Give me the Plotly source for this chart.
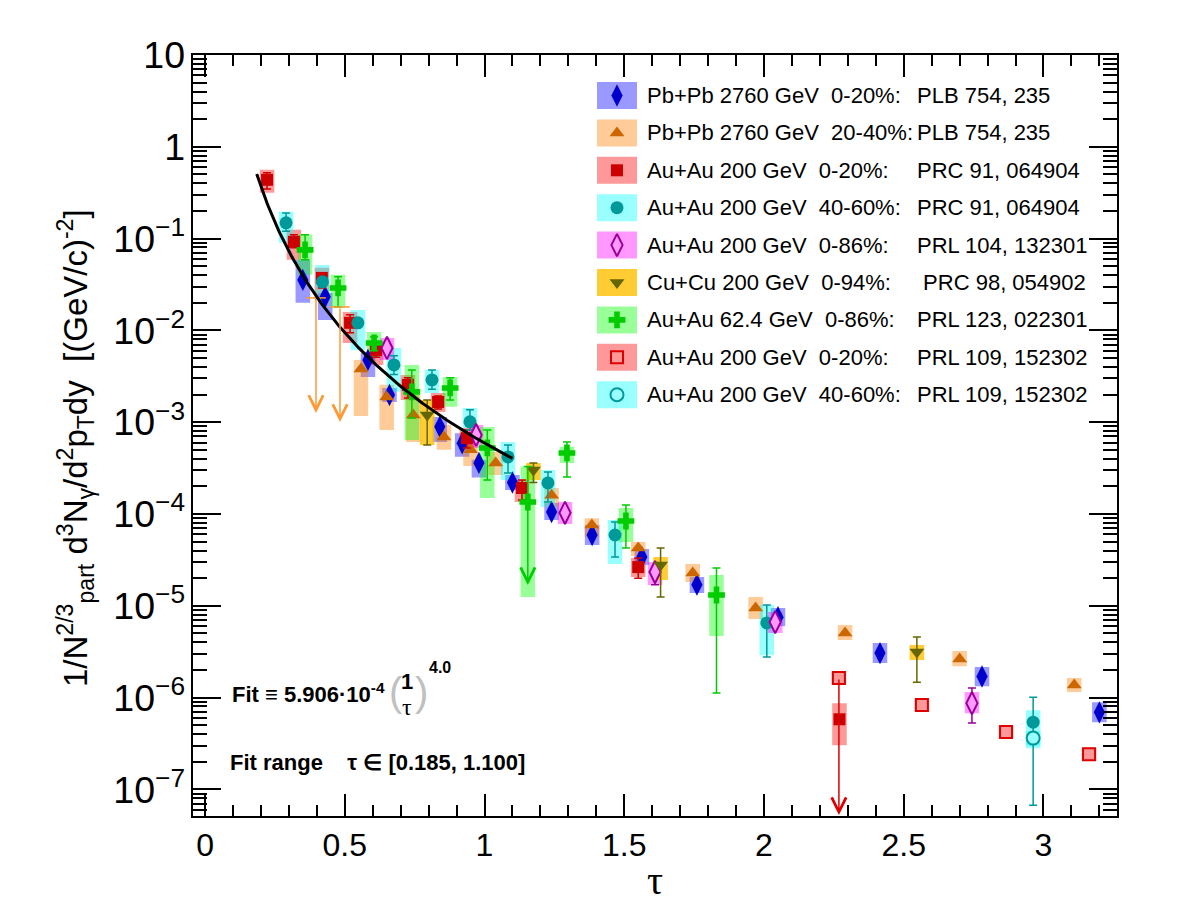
import numpy as np
import plotly.graph_objects as go

# ---------------- data ----------------
# Pb+Pb 2760 GeV 0-20% (PLB 754, 235)
PBPB020_TAU = [0.35, 0.43, 0.583, 0.66, 0.84, 0.92, 0.98, 1.10, 1.24, 1.385, 1.563, 1.76, 2.05, 2.415, 2.78, 3.20]
PBPB020_Y = [0.0355, 0.0232, 4.77e-3, 1.98e-3, 8.9e-4, 5.9e-4, 3.6e-4, 2.2e-4, 1.05e-4, 5.9e-5, 3.4e-5, 1.7e-5, 7.5e-6, 3.05e-6, 1.7e-6, 6.9e-7]
PBPB020_SYS_HI = [0.0587, 0.0256, 5.7e-3, 2.36e-3, 1.14e-3, 7.6e-4, 3.9e-4, 2.66e-4, 1.32e-4, 7.6e-5, 4.16e-5, 2.06e-5, 9.45e-6, 3.93e-6, 2.15e-6, 8.9e-7]
PBPB020_SYS_LO = [0.020, 0.013, 3.1e-3, 1.66e-3, 6.1e-4, 4.2e-4, 2.5e-4, 1.83e-4, 8.6e-5, 4.6e-5, 2.8e-5, 1.38e-5, 6.0e-6, 2.38e-6, 1.33e-6, 5.4e-7]

# Pb+Pb 2760 GeV 20-40% (PLB 754, 235)
PBPB2040_TAU = [0.558, 0.65, 0.745, 0.855, 0.95, 1.04, 1.24, 1.384, 1.55, 1.745, 1.97, 2.29, 2.70, 3.11]
PBPB2040_Y = [3.8e-3, 1.88e-3, 1.2e-3, 6.9e-4, 5.0e-4, 3.6e-4, 1.6e-4, 7.6e-5, 4.26e-5, 2.27e-5, 9.45e-6, 5.05e-6, 2.63e-6, 1.37e-6]
PBPB2040_SYS_HI = [4.77e-3, 2.55e-3, 1.98e-3, 9.3e-4, 6.4e-4, 4.74e-4, 1.92e-4, 9.0e-5, 4.95e-5, 2.85e-5, 1.25e-5, 6.17e-6, 3.21e-6, 1.63e-6]
PBPB2040_SYS_LO = [1.17e-3, 8.2e-4, 6.1e-4, 5.0e-4, 3.33e-4, 2.66e-4, 1.19e-4, 5.6e-5, 3.48e-5, 1.82e-5, 7.18e-6, 4.24e-6, 2.2e-6, 1.15e-6]
PBPB2040_UL_TAU = [0.397, 0.483]
PBPB2040_UL_Y = [0.0226, 0.018]

# Au+Au 200 GeV 0-20% (PRC 91, 064904)
AUAU020_TAU = [0.222, 0.318, 0.418, 0.519, 0.612, 0.726, 0.834, 0.937, 1.134, 1.55, 2.27]
AUAU020_Y = [0.437, 0.0922, 0.0373, 0.0121, 6.1e-3, 2.55e-3, 1.66e-3, 6.7e-4, 1.92e-4, 2.64e-5, 5.8e-7]
AUAU020_SYS_HI = [0.561, 0.1245, 0.048, 0.0159, 7.5e-3, 3.27e-3, 2.08e-3, 8.65e-4, 2.35e-4, 3.31e-5, 8.7e-7]
AUAU020_SYS_LO = [0.315, 0.0587, 0.0215, 7.3e-3, 4.2e-3, 1.75e-3, 1.29e-3, 5.24e-4, 1.35e-4, 2.06e-5, 3.03e-7]
AUAU020_STAT_HI = [0.521, 0.110, 0.0423, 0.0148, 7.3e-3, 3.04e-3, 1.93e-3, 8.24e-4, 2.35e-4, 3.31e-5, None]
AUAU020_STAT_LO = [0.348, 0.0793, 0.029, 9.4e-3, 5.1e-3, 1.84e-3, 1.39e-3, 5.24e-4, 1.42e-4, 2.0e-5, None]

# Au+Au 200 GeV 40-60% (PRC 91, 064904)
AUAU4060_TAU = [0.29, 0.42, 0.547, 0.676, 0.812, 0.948, 1.084, 1.227, 1.467, 2.01, 2.963]
AUAU4060_Y = [0.1485, 0.0338, 0.0121, 4.21e-3, 2.89e-3, 1.01e-3, 4.18e-4, 2.18e-4, 5.9e-5, 6.5e-6, 5.4e-7]
AUAU4060_SYS_HI = [0.196, 0.0516, 0.0167, 6.44e-3, 3.71e-3, 1.43e-3, 6.09e-4, 3.02e-4, 8.6e-5, 1.02e-5, 7.3e-7]
AUAU4060_SYS_LO = [0.0899, 0.0215, 6.1e-3, 2.14e-3, 2.08e-3, 8.65e-4, 2.35e-4, 1.19e-4, 2.85e-5, 2.9e-6, 2.8e-7]
AUAU4060_STAT_HI = [0.19, None, None, 5.3e-3, 3.7e-3, 1.37e-3, 5.65e-4, 2.87e-4, 8.2e-5, 1.02e-5, 1.01e-6]
AUAU4060_STAT_LO = [0.12, None, None, 3.3e-3, 2.28e-3, 8.2e-4, 2.8e-4, 1.35e-4, 3.4e-5, 2.76e-6, 3.3e-7]

# Au+Au 200 GeV 0-86% (PRL 104, 132301)
AUAU086_TAU = [0.651, 0.97, 1.288, 1.61, 2.04, 2.744]
AUAU086_Y = [6.44e-3, 7.26e-4, 1.03e-4, 2.33e-5, 6.65e-6, 8.7e-7]
AUAU086_SYS_HI = [8.28e-3, 9.33e-4, 1.35e-4, 3.0e-5, 8.55e-6, 1.15e-6]
AUAU086_SYS_LO = [4.77e-3, 5.24e-4, 7.8e-5, 1.68e-5, 5.05e-6, 6.77e-7]
AUAU086_STAT_HI = [None, None, None, None, None, 1.27e-6]
AUAU086_STAT_LO = [None, None, None, 1.7e-5, None, 5.27e-7]

# Cu+Cu 200 GeV 0-94% (PRC 98, 054902)
CUCU_TAU = [0.795, 1.175, 1.63, 2.547]
CUCU_Y = [1.2e-3, 3.02e-4, 2.78e-5, 3.13e-6]
CUCU_SYS_HI = [1.75e-3, 3.6e-4, 3.4e-5, 3.73e-6]
CUCU_SYS_LO = [5.65e-4, 2.35e-4, 1.91e-5, 2.56e-6]
CUCU_STAT_HI = [1.75e-3, 3.6e-4, 4.26e-5, 4.56e-6]
CUCU_STAT_LO = [5.65e-4, 2.2e-4, 1.25e-5, 1.47e-6]

# Au+Au 62.4 GeV 0-86% (PRL 123, 022301)
AUAU62_TAU = [0.358, 0.476, 0.605, 0.74, 0.877, 1.01, 1.155, 1.295, 1.506, 1.83]
AUAU62_Y = [0.0754, 0.029, 7.3e-3, 2.14e-3, 2.36e-3, 5.24e-4, 1.35e-4, 4.62e-4, 8.39e-5, 1.31e-5]
AUAU62_SYS_HI = [0.110, 0.0403, 9.6e-3, 4.21e-3, 3.11e-3, 8.88e-4, 3.3e-4, 5.4e-4, 1.16e-4, 2.16e-5]
AUAU62_SYS_LO = [0.0403, 0.0176, 5.14e-3, 6.41e-4, 1.47e-3, 1.49e-4, 1.25e-5, 3.6e-4, 4.95e-5, 4.68e-6]
AUAU62_STAT_HI = [0.110, 0.0385, 8.5e-3, 3.71e-3, 3.04e-3, 8.24e-4, 3.3e-4, 6.09e-4, 1.25e-4, 2.58e-5]
AUAU62_STAT_LO = [0.0587, 0.018, 6.0e-3, 1.11e-3, 1.75e-3, 2.35e-4, None, 2.53e-4, 4.26e-5, 1.12e-6]
AUAU62_ARROW_TAU = [1.155]
AUAU62_ARROW_FROM = [1.35e-4]
AUAU62_ARROW_TO = [1.68e-5]

# Au+Au 200 GeV 0-20% (PRL 109, 152302)
PRL109_020_TAU = [2.268, 2.565, 2.866, 3.163]
PRL109_020_Y = [1.63e-6, 8.28e-7, 4.21e-7, 2.42e-7]
PRL109_020_SYS_HI = [1.92e-6, 9.75e-7, 4.95e-7, 2.85e-7]
PRL109_020_SYS_LO = [1.38e-6, 7.0e-7, 3.57e-7, 2.05e-7]
PRL109_020_ARROW_TAU = [2.268]
PRL109_020_ARROW_FROM = [1.63e-6]

# Au+Au 200 GeV 40-60% (PRL 109, 152302)
PRL109_4060_TAU = [2.963]
PRL109_4060_Y = [3.62e-7]
PRL109_4060_SYS_HI = [4.3e-7]
PRL109_4060_SYS_LO = [3.0e-7]
PRL109_4060_STAT_HI = [None]
PRL109_4060_STAT_LO = [6.73e-8]

# Fit
FIT_NORM = 5.906e-4
FIT_POW = 4.0
FIT_RANGE = [0.185, 1.100]

LEGEND_LABELS = ["Pb+Pb 2760 GeV  0-20%:", "Pb+Pb 2760 GeV  20-40%:", "Au+Au 200 GeV  0-20%:",
                 "Au+Au 200 GeV  40-60%:", "Au+Au 200 GeV  0-86%:", "Cu+Cu 200 GeV  0-94%:",
                 "Au+Au 62.4 GeV  0-86%:", "Au+Au 200 GeV  0-20%:", "Au+Au 200 GeV  40-60%:"]
LEGEND_REFS = ["PLB 754, 235", "PLB 754, 235", "PRC 91, 064904", "PRC 91, 064904", "PRL 104, 132301",
               " PRC 98, 054902", "PRL 123, 022301", "PRL 109, 152302", "PRL 109, 152302"]

# ---------------- layout constants ----------------
W, H = 1182, 917
ML, MR, MT, MB = 193, 65, 55, 101
PW, PH = W - ML - MR, H - MT - MB
X_RANGE = [-0.043, 3.263]
Y_RANGE_LOG = [-7.29, 1.0]
HW = 0.026  # half width of systematic boxes (tau units)


def px(x):
    return (x - ML) / PW


def py(y):
    return (H - MB - y) / PH


BLUE_BOX = "rgba(0,0,255,0.4)"
ORANGE_BOX = "rgba(255,128,0,0.4)"
RED_BOX = "rgba(255,0,0,0.4)"
CYAN_BOX = "rgba(0,255,255,0.4)"
MAG_BOX = "rgba(255,0,255,0.4)"
GOLD_BOX = "rgba(255,191,0,0.8)"
GREEN_BOX = "rgba(0,255,0,0.4)"

fig = go.Figure()


def add_boxes(tau, lo, hi, color):
    xs, ys = [], []
    for t, l, h in zip(tau, lo, hi):
        xs += [t - HW, t + HW, t + HW, t - HW, t - HW, None]
        ys += [l, l, h, h, l, None]
    fig.add_trace(go.Scatter(x=xs, y=ys, mode="lines", fill="toself", fillcolor=color,
                             line=dict(width=0, color=color), hoverinfo="skip", showlegend=False))


def add_points(tau, y, symbol, size, color, stat_lo=None, stat_hi=None, lcolor=None, lwidth=0):
    err = None
    if stat_lo is not None:
        plus = [(h - v) if h is not None else None for v, h in zip(y, stat_hi)]
        minus = [(v - l) if l is not None else None for v, l in zip(y, stat_lo)]
        err = dict(type="data", symmetric=False, array=plus, arrayminus=minus,
                   color=lcolor or color, thickness=1.5, width=4)
    fig.add_trace(go.Scatter(x=tau, y=y, mode="markers",
                             marker=dict(symbol=symbol, size=size, color=color,
                                         line=dict(color=lcolor or color, width=lwidth)),
                             error_y=err, showlegend=False, hoverinfo="x+y"))


# boxes
add_boxes(PBPB020_TAU, PBPB020_SYS_LO, PBPB020_SYS_HI, BLUE_BOX)
add_boxes(PBPB2040_TAU, PBPB2040_SYS_LO, PBPB2040_SYS_HI, ORANGE_BOX)
add_boxes(AUAU020_TAU, AUAU020_SYS_LO, AUAU020_SYS_HI, RED_BOX)
add_boxes(AUAU4060_TAU, AUAU4060_SYS_LO, AUAU4060_SYS_HI, CYAN_BOX)
add_boxes(AUAU086_TAU, AUAU086_SYS_LO, AUAU086_SYS_HI, MAG_BOX)
add_boxes(CUCU_TAU, CUCU_SYS_LO, CUCU_SYS_HI, GOLD_BOX)
add_boxes(AUAU62_TAU, AUAU62_SYS_LO, AUAU62_SYS_HI, GREEN_BOX)
add_boxes(PRL109_020_TAU, PRL109_020_SYS_LO, PRL109_020_SYS_HI, RED_BOX)
add_boxes(PRL109_4060_TAU, PRL109_4060_SYS_LO, PRL109_4060_SYS_HI, CYAN_BOX)

# markers (open ROOT markers get the light box colour as fill)
add_points(PBPB020_TAU, PBPB020_Y, "diamond-tall", 16, "#0000cc")
add_points(PBPB2040_TAU, PBPB2040_Y, "triangle-up", 13, "#cc6600")
add_points(AUAU020_TAU, AUAU020_Y, "square", 12, "#cc0000", AUAU020_STAT_LO, AUAU020_STAT_HI)
add_points(AUAU4060_TAU, AUAU4060_Y, "circle", 13, "#009999", AUAU4060_STAT_LO, AUAU4060_STAT_HI)
add_points(AUAU086_TAU, AUAU086_Y, "diamond-tall", 16, "#ff99ff", AUAU086_STAT_LO, AUAU086_STAT_HI,
           lcolor="#990099", lwidth=2)
add_points(CUCU_TAU, CUCU_Y, "triangle-down", 13, "#666600", CUCU_STAT_LO, CUCU_STAT_HI)
add_points(AUAU62_TAU, AUAU62_Y, "cross", 14, "#00cc00", AUAU62_STAT_LO, AUAU62_STAT_HI)
add_points(PRL109_020_TAU, PRL109_020_Y, "square", 12, "#ff9999", lcolor="#dd0000", lwidth=2)
add_points(PRL109_4060_TAU, PRL109_4060_Y, "circle", 13, "#99ffff", PRL109_4060_STAT_LO,
           PRL109_4060_STAT_HI, lcolor="#009999", lwidth=2)

# upper-limit caps (orange)
fig.add_trace(go.Scatter(x=PBPB2040_UL_TAU, y=PBPB2040_UL_Y, mode="markers",
                         marker=dict(symbol="line-ew", size=14, line=dict(color="#ff9933", width=1.5)),
                         showlegend=False, hoverinfo="x+y"))

# fit curve
tau_fit = np.linspace(FIT_RANGE[0], FIT_RANGE[1], 200)
fig.add_trace(go.Scatter(x=tau_fit, y=FIT_NORM * (1.0 / tau_fit) ** FIT_POW, mode="lines",
                         line=dict(color="black", width=3), showlegend=False, hoverinfo="skip"))

annotations = []


def add_arrow(tau, start, end, color):
    annotations.append(dict(x=tau, y=np.log10(end), ax=tau, ay=np.log10(start), xref="x", yref="y",
                            axref="x", ayref="y", text="", showarrow=True, arrowhead=5, arrowsize=1.9,
                            arrowwidth=1.5, arrowcolor=color, standoff=0, startstandoff=0))


UL_FACTOR = 17.9  # drawn length of upper-limit arrows
for t, v in zip(PBPB2040_UL_TAU, PBPB2040_UL_Y):
    add_arrow(t, v, v / UL_FACTOR, "#ff9933")
for t, a, b in zip(AUAU62_ARROW_TAU, AUAU62_ARROW_FROM, AUAU62_ARROW_TO):
    add_arrow(t, a, b, "#00cc00")
for t, a in zip(PRL109_020_ARROW_TAU, PRL109_020_ARROW_FROM):
    add_arrow(t, a, 10 ** (Y_RANGE_LOG[0] + 0.01), "#dd0000")

# ---------------- legend (manual, ROOT-like) ----------------
LEG_Y0, LEG_DY = 95.5, 37.4
leg_symbols = [("diamond-tall", 16, "#0000cc", "#0000cc", 0), ("triangle-up", 13, "#cc6600", "#cc6600", 0),
               ("square", 12, "#cc0000", "#cc0000", 0), ("circle", 13, "#009999", "#009999", 0),
               ("diamond-tall", 16, "#ff99ff", "#990099", 2), ("triangle-down", 13, "#666600", "#666600", 0),
               ("cross", 14, "#00cc00", "#00cc00", 0), ("square", 12, "#ff9999", "#dd0000", 2),
               ("circle", 13, "#99ffff", "#009999", 2)]
leg_boxes = [BLUE_BOX, ORANGE_BOX, RED_BOX, CYAN_BOX, MAG_BOX, GOLD_BOX, GREEN_BOX, RED_BOX, CYAN_BOX]
shapes = []
LEG_FONT = dict(size=22, color="black")
for i, (lab, ref) in enumerate(zip(LEGEND_LABELS, LEGEND_REFS)):
    yc = LEG_Y0 + LEG_DY * i
    shapes.append(dict(type="rect", xref="paper", yref="paper", x0=px(597), x1=px(637),
                       y0=py(yc + 13.5), y1=py(yc - 13.5), fillcolor=leg_boxes[i], line=dict(width=0),
                       layer="below"))
    sym, sz, col, lcol, lw = leg_symbols[i]
    fig.add_trace(go.Scatter(x=[px(617)], y=[py(yc)], xaxis="x2", yaxis="y2", mode="markers",
                             marker=dict(symbol=sym, size=sz, color=col, line=dict(color=lcol, width=lw)),
                             showlegend=False, hoverinfo="skip"))
    annotations.append(dict(x=px(645), y=py(yc), xref="paper", yref="paper", xanchor="left",
                            yanchor="middle", showarrow=False, text=lab.replace("  ", " \u00a0"),
                            font=LEG_FONT))
    annotations.append(dict(x=px(915), y=py(yc), xref="paper", yref="paper", xanchor="left",
                            yanchor="middle", showarrow=False,
                            text=("\u00a0" + ref[1:]) if ref.startswith(" ") else ref,
                            font=LEG_FONT))

# ---------------- fit text ----------------
FB = dict(size=22, color="black", family="Liberation Sans")
annotations.append(dict(x=px(230), y=py(693), xref="paper", yref="paper", xanchor="left", yanchor="middle",
                        showarrow=False, text="<b>Fit \u2261 5.906\u00b710<sup>-4</sup></b>", font=FB))
annotations.append(dict(x=px(396), y=py(692), xref="paper", yref="paper", xanchor="center", yanchor="middle",
                        showarrow=False, text="(", font=dict(size=40, color="#c0c0c0")))
annotations.append(dict(x=px(407), y=py(681), xref="paper", yref="paper", xanchor="center", yanchor="middle",
                        showarrow=False, text="<b>1</b>", font=FB))
annotations.append(dict(x=px(407), y=py(707), xref="paper", yref="paper", xanchor="center", yanchor="middle",
                        showarrow=False, text="\u03c4", font=dict(size=24, color="black", family="Liberation Serif")))
annotations.append(dict(x=px(421), y=py(692), xref="paper", yref="paper", xanchor="center", yanchor="middle",
                        showarrow=False, text=")", font=dict(size=40, color="#c0c0c0")))
annotations.append(dict(x=px(427), y=py(667), xref="paper", yref="paper", xanchor="left", yanchor="middle",
                        showarrow=False, text="<b>4.0</b>", font=dict(size=16, color="black")))
annotations.append(dict(x=px(228), y=py(762), xref="paper", yref="paper", xanchor="left", yanchor="middle",
                        showarrow=False,
                        text="<b>Fit range \u00a0 \u00a0\u03c4 \u2208 [0.185, 1.100]</b>", font=FB))

# axis titles
annotations.append(dict(x=px(75), y=py(448), xref="paper", yref="paper", xanchor="center", yanchor="middle",
                        showarrow=False, textangle=-90,
                        text="1/N<sup>2/3</sup><sub>part</sub> d<sup>3</sup>N<sub>\u03b3</sub>/d<sup>2</sup>p<sub>T</sub>dy "
                             "\u00a0[(GeV/c)<sup>-2</sup>]",
                        font=dict(size=33, color="black")))
annotations.append(dict(x=px(655), y=py(880), xref="paper", yref="paper", xanchor="center", yanchor="middle",
                        showarrow=False, text="\u03c4",
                        font=dict(size=40, color="black", family="Liberation Serif")))

fig.update_layout(
    width=W, height=H, margin=dict(l=ML, r=MR, t=MT, b=MB),
    paper_bgcolor="white", plot_bgcolor="white",
    font=dict(family="Liberation Sans, Arial, sans-serif", color="black"),
    xaxis=dict(range=X_RANGE, tick0=0, dtick=0.5, ticks="inside", ticklen=22, tickwidth=1.5,
               tickcolor="black", showline=True, linewidth=2, linecolor="black", mirror="ticks",
               showgrid=False, zeroline=False,
               tickfont=dict(size=32, family="Liberation Sans Narrow, Liberation Sans, sans-serif"),
               minor=dict(dtick=0.1, tick0=0, ticks="inside", ticklen=11, tickwidth=1.5, tickcolor="black")),
    yaxis=dict(type="log", range=Y_RANGE_LOG, dtick=1, exponentformat="power", ticks="inside",
               ticklen=28, tickwidth=1.5, tickcolor="black", showline=True, linewidth=2,
               linecolor="black", mirror="ticks", showgrid=False, zeroline=False, tickfont=dict(size=30),
               minor=dict(ticks="inside", ticklen=14, tickwidth=1.5, tickcolor="black", dtick="D1")),
    xaxis2=dict(overlaying="x", anchor="y2", range=[0, 1], visible=False),
    yaxis2=dict(overlaying="y", anchor="x2", range=[0, 1], visible=False),
    annotations=annotations, shapes=shapes,
)

fig.write_html("out.html")
